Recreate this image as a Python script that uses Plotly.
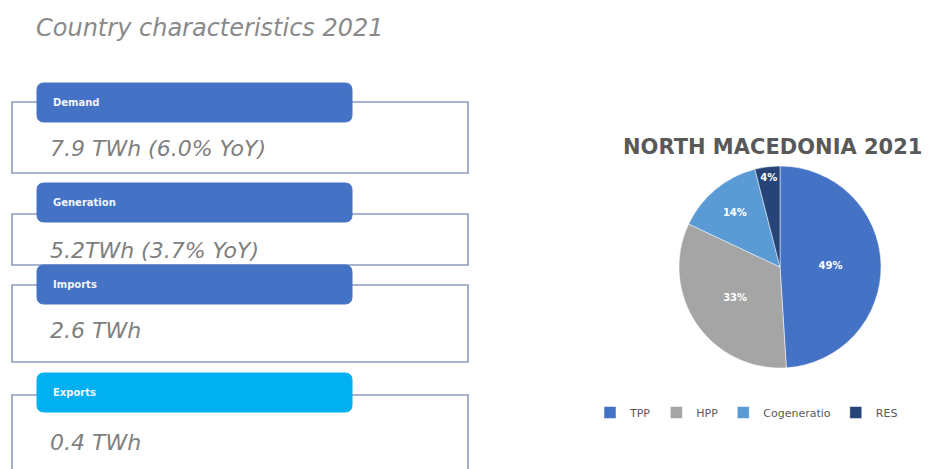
import plotly.graph_objects as go

# ---- data ----
item_names = ["Demand", "Generation", "Imports", "Exports"]
item_values = ["7.9 TWh (6.0% YoY)", "5.2TWh (3.7% YoY)", "2.6 TWh", "0.4 TWh"]
pie_labels = ["TPP", "HPP", "Cogeneratio", "RES"]
pie_values = [49, 33, 14, 4]
main_title = "Country characteristics 2021"
pie_title = "NORTH MACEDONIA 2021"

# ---- layout constants (pixels) ----
W, H = 951, 469
header_colors = ["#4472C4", "#4472C4", "#4472C4", "#00B0F0"]
pie_colors = ["#4472C4", "#A5A5A5", "#5B9BD5", "#264478"]
header_top = [83, 183, 265, 373]
header_h = 39
outline_top = [102, 214, 285, 395]
outline_bot = [173, 265, 362, 480]
value_y = [148, 250, 330, 442]
hx0, hx1 = 37, 352
ox0, ox1 = 12, 468


def rounded(x0, y0, x1, y1, r):
    return (f"M{x0+r},{y0} L{x1-r},{y0} Q{x1},{y0} {x1},{y0+r} "
            f"L{x1},{y1-r} Q{x1},{y1} {x1-r},{y1} L{x0+r},{y1} "
            f"Q{x0},{y1} {x0},{y1-r} L{x0},{y0+r} Q{x0},{y0} {x0+r},{y0} Z")


fig = go.Figure()

# invisible pixel-space scatter to set up axes
fig.add_trace(go.Scatter(x=[0, W], y=[0, H], mode="markers",
                         marker=dict(opacity=0), showlegend=False,
                         hoverinfo="skip"))

shapes = []
annotations = []
for i, (name, val) in enumerate(zip(item_names, item_values)):
    shapes.append(dict(type="rect", xref="x", yref="y",
                       x0=ox0, x1=ox1, y0=outline_top[i], y1=outline_bot[i],
                       line=dict(color="#8C9BBF", width=1.6),
                       fillcolor="rgba(0,0,0,0)"))
    shapes.append(dict(type="path", xref="x", yref="y",
                       path=rounded(hx0, header_top[i], hx1,
                                    header_top[i] + header_h, 7),
                       fillcolor=header_colors[i],
                       line=dict(color=header_colors[i], width=1)))
    annotations.append(dict(x=51, y=header_top[i] + header_h / 2,
                            xref="x", yref="y", text=f"<b>{name}</b>",
                            showarrow=False,
                            xanchor="left", yanchor="middle",
                            font=dict(family="DejaVu Sans", size=10,
                                      color="#F2F5FB")))
    annotations.append(dict(x=48, y=value_y[i], xref="x", yref="y",
                            text=f"<i>{val}</i>", showarrow=False,
                            xanchor="left", yanchor="middle",
                            font=dict(family="DejaVu Sans", size=22,
                                      color="#7F7F7F")))

annotations.append(dict(x=34, y=28, xref="x", yref="y",
                        text=f"<i>{main_title}</i>", showarrow=False,
                        xanchor="left", yanchor="middle",
                        font=dict(family="DejaVu Sans", size=24,
                                  color="#8A8A8A")))
annotations.append(dict(x=772, y=147, xref="x", yref="y",
                        text=f"<b>{pie_title}</b>", showarrow=False,
                        xanchor="center", yanchor="middle",
                        font=dict(family="DejaVu Sans", size=21,
                                  color="#595959")))

cx, cy, r = 780, 267, 101
fig.add_trace(go.Pie(labels=pie_labels, values=pie_values, sort=False,
                     direction="clockwise", rotation=0,
                     marker=dict(colors=pie_colors,
                                 line=dict(color="white", width=0.5)),
                     textinfo="percent", texttemplate="<b>%{percent:.0%}</b>",
                     textposition="inside", insidetextorientation="horizontal",
                     textfont=dict(family="DejaVu Sans", size=10, color="white"),
                     domain=dict(x=[(cx - r) / W, (cx + r) / W],
                                 y=[1 - (cy + r) / H, 1 - (cy - r) / H]),
                     hoverinfo="label+percent"))

fig.update_layout(
    width=W, height=H,
    margin=dict(l=0, r=0, t=0, b=0),
    paper_bgcolor="white", plot_bgcolor="white",
    xaxis=dict(range=[0, W], visible=False, domain=[0, 1], fixedrange=True),
    yaxis=dict(range=[H, 0], visible=False, domain=[0, 1], fixedrange=True),
    shapes=shapes, annotations=annotations,
    showlegend=True,
    legend=dict(orientation="h", x=590 / W, y=1 - 398 / H,
                xanchor="left", yanchor="top",
                font=dict(family="DejaVu Sans", size=11, color="#595959"),
                itemclick=False, itemdoubleclick=False),
)

fig.write_html("out.html")
